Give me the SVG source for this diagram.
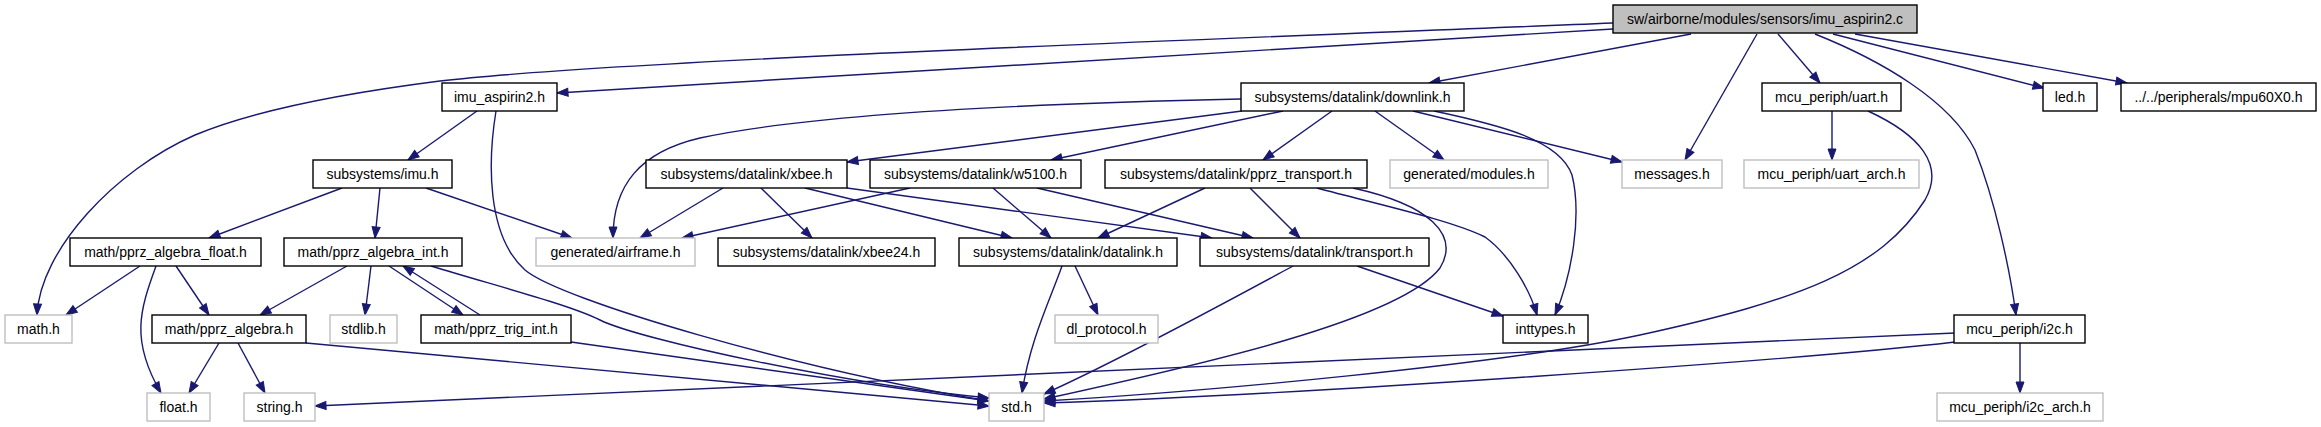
<svg xmlns="http://www.w3.org/2000/svg" width="2321" height="427" viewBox="0 0 2321 427">
<style>
.n rect{fill:#ffffff;stroke:#000000;stroke-width:1.4}
.g rect{fill:#ffffff;stroke:#bfbfbf;stroke-width:1.4}
.r rect{fill:#bfbfbf;stroke:#000000;stroke-width:1.4}
text{font-family:"Liberation Sans",Arial,Helvetica,sans-serif;font-size:14px;fill:#000000;text-anchor:middle}
#edges path{fill:none;stroke:#191970;stroke-width:1.4;marker-end:url(#a)}
</style>
<defs>
<marker id="a" markerWidth="12" markerHeight="9" refX="11" refY="4" orient="auto" markerUnits="userSpaceOnUse" overflow="visible">
<path d="M0,0 L11,4 L0,8 z" fill="#191970" stroke="#191970" stroke-width="1"/>
</marker>
</defs>
<rect width="2321" height="427" fill="#ffffff"/>
<g id="edges">
<path d="M1613,23 C1250,38 620,60 440,81 C330,95 250,112 195,135 C115,170 40,250 37,315"/>
<path d="M1613,29 L557,93"/>
<path d="M1691,34 L1429,83"/>
<path d="M1757,34 L1685,160"/>
<path d="M1778,34 L1820,83"/>
<path d="M1815,34 C1880,60 1950,100 1975,150 C1995,200 2010,270 2016,315"/>
<path d="M1833,34 L2044,88"/>
<path d="M1855,34 L2127,83"/>
<path d="M477,111 L408,160"/>
<path d="M496,111 C488,160 486,235 525,270 C560,300 800,370 989,401"/>
<path d="M342,188 L209,238"/>
<path d="M380,188 L375,238"/>
<path d="M426,188 L572,238"/>
<path d="M1241,99 C1100,102 830,110 700,138 C640,152 613,185 613,238"/>
<path d="M1242,111 L847,162"/>
<path d="M1283,111 L1051,160"/>
<path d="M1332,111 L1263,160"/>
<path d="M1375,111 L1444,160"/>
<path d="M1413,111 L1622,162"/>
<path d="M1434,111 C1500,125 1560,140 1572,175 C1582,215 1572,275 1555,315"/>
<path d="M723,188 L640,238"/>
<path d="M761,188 L812,238"/>
<path d="M805,188 L1012,238"/>
<path d="M847,188 L1212,238"/>
<path d="M910,188 L682,238"/>
<path d="M993,188 L1051,238"/>
<path d="M1037,188 L1253,238"/>
<path d="M1205,188 L1098,238"/>
<path d="M1250,188 L1300,238"/>
<path d="M1317,188 C1380,205 1450,220 1485,237 C1510,255 1530,290 1537,315"/>
<path d="M1353,188 C1430,205 1460,235 1440,268 C1400,320 1200,365 1044,399"/>
<path d="M1062,266 C1050,300 1030,340 1022,393"/>
<path d="M1075,266 L1098,315"/>
<path d="M1293,266 C1230,300 1120,360 1044,394"/>
<path d="M1357,266 L1503,316"/>
<path d="M1832,111 L1832,160"/>
<path d="M1868,111 C1920,135 1945,165 1925,200 C1880,270 1800,300 1640,335 C1500,365 1200,392 1044,401"/>
<path d="M1955,333 L315,406"/>
<path d="M1955,342 C1800,360 1300,395 1044,403"/>
<path d="M2020,343 L2020,393"/>
<path d="M140,266 L66,315"/>
<path d="M176,266 L209,315"/>
<path d="M156,266 C140,310 130,340 161,393"/>
<path d="M347,266 L260,315"/>
<path d="M371,266 L365,315"/>
<path d="M389,266 L463,315"/>
<path d="M480,315 L403,266"/>
<path d="M431,266 C500,287 570,305 600,320 C640,340 850,385 989,398"/>
<path d="M571,342 L989,401"/>
<path d="M219,343 L189,393"/>
<path d="M238,343 L265,393"/>
<path d="M306,343 L989,406"/>
</g>
<g id="root" class="r"><rect x="1613" y="5" width="304" height="28"/><text x="1765" y="24">sw/airborne/modules/sensors/imu_aspirin2.c</text></g>
<g id="imu_aspirin2" class="n"><rect x="442" y="83" width="115" height="28"/><text x="499.5" y="102">imu_aspirin2.h</text></g>
<g id="downlink" class="n"><rect x="1241" y="83" width="223" height="28"/><text x="1352.5" y="102">subsystems/datalink/downlink.h</text></g>
<g id="uart" class="n"><rect x="1762" y="83" width="139" height="28"/><text x="1831.5" y="102">mcu_periph/uart.h</text></g>
<g id="led" class="n"><rect x="2043" y="83" width="54" height="28"/><text x="2070" y="102">led.h</text></g>
<g id="mpu60x0" class="n"><rect x="2121" y="83" width="195" height="28"/><text x="2218.5" y="102">../../peripherals/mpu60X0.h</text></g>
<g id="imu" class="n"><rect x="313" y="160" width="139" height="28"/><text x="382.5" y="179">subsystems/imu.h</text></g>
<g id="xbee" class="n"><rect x="646" y="160" width="201" height="28"/><text x="746.5" y="179">subsystems/datalink/xbee.h</text></g>
<g id="w5100" class="n"><rect x="870" y="160" width="211" height="28"/><text x="975.5" y="179">subsystems/datalink/w5100.h</text></g>
<g id="pprz_transport" class="n"><rect x="1105" y="160" width="262" height="28"/><text x="1236" y="179">subsystems/datalink/pprz_transport.h</text></g>
<g id="modules" class="g"><rect x="1390" y="160" width="158" height="28"/><text x="1469" y="179">generated/modules.h</text></g>
<g id="messages" class="g"><rect x="1622" y="160" width="100" height="28"/><text x="1672" y="179">messages.h</text></g>
<g id="uart_arch" class="g"><rect x="1744" y="160" width="175" height="28"/><text x="1831.5" y="179">mcu_periph/uart_arch.h</text></g>
<g id="algebra_float" class="n"><rect x="70" y="238" width="191" height="28"/><text x="165.5" y="257">math/pprz_algebra_float.h</text></g>
<g id="algebra_int" class="n"><rect x="284" y="238" width="178" height="28"/><text x="373" y="257">math/pprz_algebra_int.h</text></g>
<g id="airframe" class="g"><rect x="536" y="238" width="159" height="28"/><text x="615.5" y="257">generated/airframe.h</text></g>
<g id="xbee24" class="n"><rect x="718" y="238" width="217" height="28"/><text x="826.5" y="257">subsystems/datalink/xbee24.h</text></g>
<g id="datalink" class="n"><rect x="959" y="238" width="218" height="28"/><text x="1068" y="257">subsystems/datalink/datalink.h</text></g>
<g id="transport" class="n"><rect x="1200" y="238" width="229" height="28"/><text x="1314.5" y="257">subsystems/datalink/transport.h</text></g>
<g id="math" class="g"><rect x="5" y="315" width="67" height="28"/><text x="38.5" y="334">math.h</text></g>
<g id="pprz_algebra" class="n"><rect x="152" y="315" width="154" height="28"/><text x="229" y="334">math/pprz_algebra.h</text></g>
<g id="stdlib" class="g"><rect x="330" y="315" width="67" height="28"/><text x="363.5" y="334">stdlib.h</text></g>
<g id="trig_int" class="n"><rect x="421" y="315" width="150" height="28"/><text x="496" y="334">math/pprz_trig_int.h</text></g>
<g id="dl_protocol" class="g"><rect x="1055" y="315" width="103" height="28"/><text x="1106.5" y="334">dl_protocol.h</text></g>
<g id="inttypes" class="n"><rect x="1503" y="315" width="85" height="28"/><text x="1545.5" y="334">inttypes.h</text></g>
<g id="i2c" class="n"><rect x="1954" y="315" width="131" height="28"/><text x="2019.5" y="334">mcu_periph/i2c.h</text></g>
<g id="float" class="g"><rect x="147" y="393" width="63" height="28"/><text x="178.5" y="412">float.h</text></g>
<g id="string" class="g"><rect x="244" y="393" width="71" height="28"/><text x="279.5" y="412">string.h</text></g>
<g id="std" class="g"><rect x="989" y="393" width="55" height="28"/><text x="1016.5" y="412">std.h</text></g>
<g id="i2c_arch" class="g"><rect x="1937" y="393" width="166" height="28"/><text x="2020" y="412">mcu_periph/i2c_arch.h</text></g>
</svg>
